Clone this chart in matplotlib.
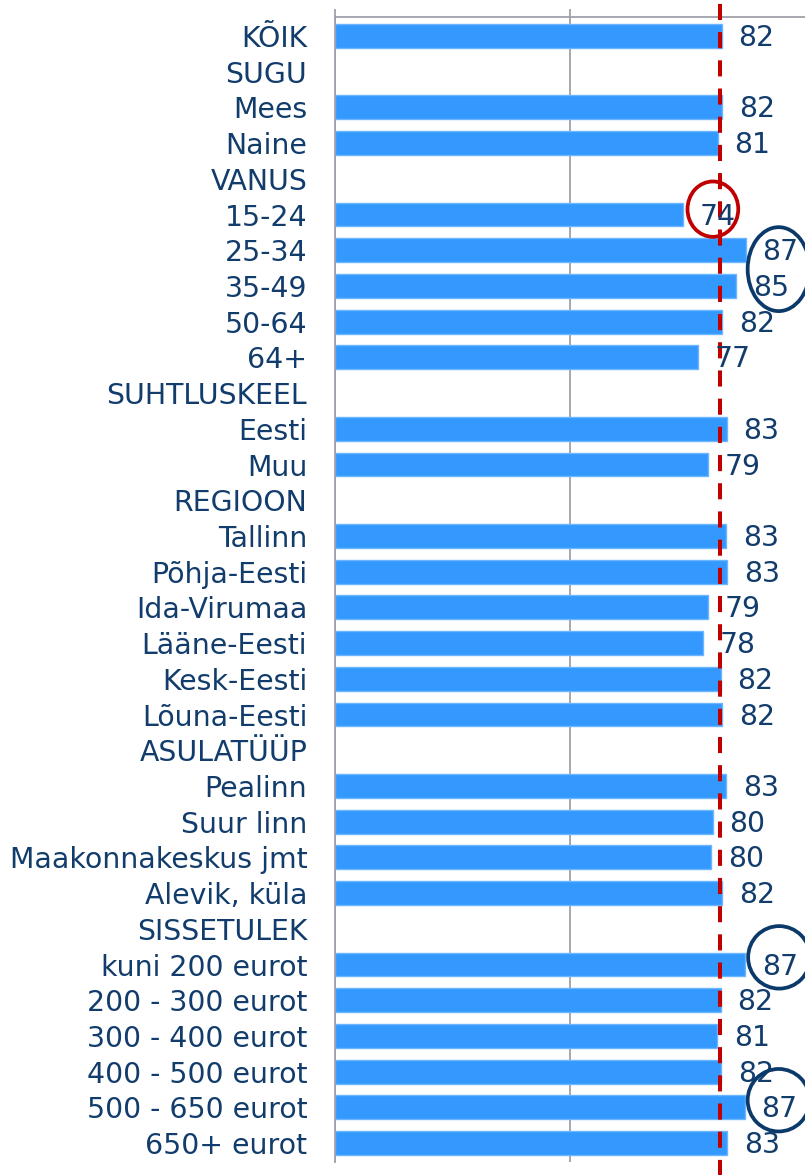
import numpy as np
import matplotlib.pyplot as plt
from matplotlib.patches import Ellipse

font = 20.4
TXT = '#113C6B'
BAR = '#3399FF'
GRID = '#A0A0AA'

categories = ['KÕIK', 'SUGU', 'Mees', 'Naine', 'VANUS', '15-24', '25-34', '35-49',
              '50-64', '64+', 'SUHTLUSKEEL', 'Eesti', 'Muu', 'REGIOON', 'Tallinn',
              'Põhja-Eesti', 'Ida-Virumaa', 'Lääne-Eesti', 'Kesk-Eesti', 'Lõuna-Eesti',
              'ASULATÜÜP', 'Pealinn', 'Suur linn', 'Maakonnakeskus jmt', 'Alevik, küla',
              'SISSETULEK', 'kuni 200 eurot', '200 - 300 eurot', '300 - 400 eurot',
              '400 - 500 eurot', '500 - 650 eurot', '650+ eurot']
# None = group header row (no bar)
values = [82.3, None, 82.4, 81.4, None, 74.1, 87.4, 85.4,
          82.4, 77.3, None, 83.3, 79.3, None, 83.2,
          83.4, 79.4, 78.2, 82.1, 82.4,
          None, 83.2, 80.4, 80.0, 82.4,
          None, 87.3, 82.1, 81.3,
          82.2, 87.2, 83.4]
mean_value = 81.9

# circled labels
highlight_low = ['15-24']
highlight_high = [['25-34', '35-49'], ['kuni 200 eurot'], ['500 - 650 eurot']]

fig = plt.figure(figsize=(8.05, 11.75), dpi=100)
ax = fig.add_axes([335 / 805, 1 - 1162 / 1175, 470 / 805, 1145 / 1175])

ypos = np.arange(len(categories))
for y, v in zip(ypos, values):
    if v is None:
        continue
    ax.barh(y, v, height=0.67, color=BAR, edgecolor='#6CB6FF', linewidth=1, zorder=2)
    ax.annotate(f'{v:.0f}', (v, y), xytext=(12, -1.5), textcoords='offset points',
                ha='left', va='center', fontsize=font, color=TXT, zorder=4)

ax.set_xlim(0, 100)
ax.set_ylim(len(categories) - 0.47, -0.53)
ax.set_yticks(ypos)
ax.set_yticklabels(categories, fontsize=font, color=TXT)
ax.tick_params(axis='y', length=0, pad=20)

ax.xaxis.tick_top()
ax.set_xticks([0, 50])
ax.tick_params(axis='x', labeltop=False, length=6, width=1.3, color=GRID, direction='out')
ax.grid(axis='x', color=GRID, linewidth=1.3)
ax.set_axisbelow(True)
for s in ['right', 'bottom']:
    ax.spines[s].set_visible(False)
for s in ['top', 'left']:
    ax.spines[s].set_color(GRID)
    ax.spines[s].set_linewidth(1.3)

# average line, running past the plot area
ax.axvline(mean_value, ymin=-0.012, ymax=1.016, color='#C00000', linewidth=2.9,
           linestyle=(0, (4, 3)), clip_on=False, zorder=3)

for rows in highlight_high:
    idx = [categories.index(r) for r in rows]
    vmax = max(values[i] for i in idx)
    if len(idx) == 1:
        xy, h = (vmax + 7.2, idx[0] - 0.2), 1.75
    else:
        xy, h = (vmax + 7.0, (idx[0] + idx[-1]) / 2 + 0.03), 2.35
    ax.add_patch(Ellipse(xy, 13.2, h, fill=False, edgecolor='#0B3A6A',
                         linewidth=2.7, clip_on=False, zorder=5))

for r in highlight_low:
    i = categories.index(r)
    ax.add_patch(Ellipse((values[i] + 6.3, i - 0.15), 10.8, 1.55, fill=False,
                         edgecolor='#C00000', linewidth=2.7, clip_on=False, zorder=5))

fig.savefig('out.png', dpi=100)
